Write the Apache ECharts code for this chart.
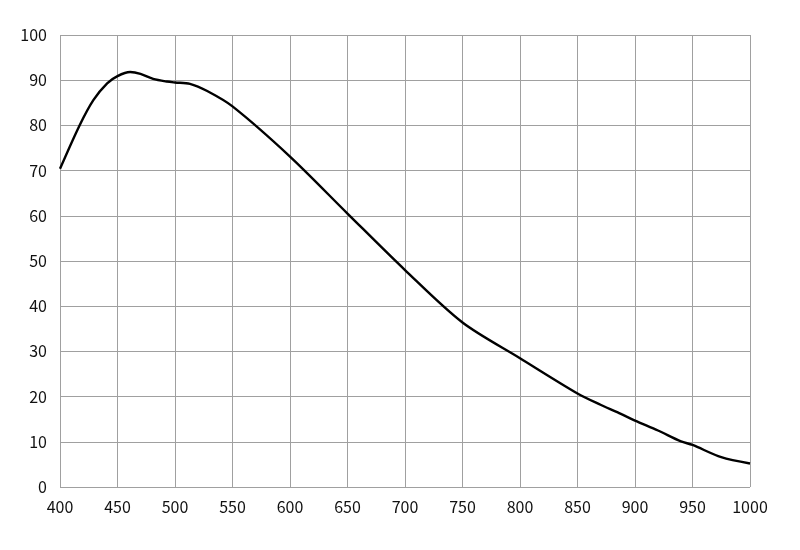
<!DOCTYPE html>
<html>
<head>
<meta charset="utf-8">
<script src="https://cdn.jsdelivr.net/npm/echarts@6/dist/echarts.min.js"></script>
<style>html,body{margin:0;padding:0;background:#fff}#c{width:800px;height:550px}</style>
</head>
<body>
<div id="c"></div>
<script>
var wavelengths = [400, 417, 429, 441, 450, 461, 470, 481, 493, 500, 513, 528, 550, 600, 650, 700, 750, 800, 850, 870, 885, 900, 920, 940, 950, 975, 1000];
var values =      [70.4, 80, 85.6, 89.3, 90.9, 91.8, 91.4, 90.3, 89.7, 89.5, 89.2, 87.6, 84.2, 73.1, 60.5, 48, 36.4, 28.5, 20.7, 18.2, 16.5, 14.7, 12.5, 10.1, 9.3, 6.6, 5.2];
var xTicks = {min: 400, max: 1000, step: 50};
var yTicks = {min: 0, max: 100, step: 10};

var seriesData = wavelengths.map(function (w, i) { return [w, values[i]]; });
var chart = echarts.init(document.getElementById('c'));
var fontFam = '"Noto Sans CJK SC", "Noto Sans", sans-serif';
chart.setOption({
  animation: false,
  backgroundColor: '#ffffff',
  grid: {left: 60, right: 50, top: 35, bottom: 63},
  xAxis: {
    type: 'value', min: xTicks.min, max: xTicks.max, interval: xTicks.step,
    axisLine: {show: false}, axisTick: {show: false},
    axisLabel: {color: '#111', fontSize: 16, fontFamily: fontFam, margin: 12,
      formatter: function (v) { return String(v); }},
    splitLine: {show: true, lineStyle: {color: '#a0a0a0', width: 1}}
  },
  yAxis: {
    type: 'value', min: yTicks.min, max: yTicks.max, interval: yTicks.step,
    axisLine: {show: false}, axisTick: {show: false},
    axisLabel: {color: '#111', fontSize: 16, fontFamily: fontFam, margin: 13},
    splitLine: {show: true, lineStyle: {color: '#a0a0a0', width: 1}}
  },
  series: [{
    type: 'line', data: seriesData, smooth: 0.3, showSymbol: false,
    lineStyle: {color: '#000', width: 2.4}
  }]
});
</script>
</body>
</html>
